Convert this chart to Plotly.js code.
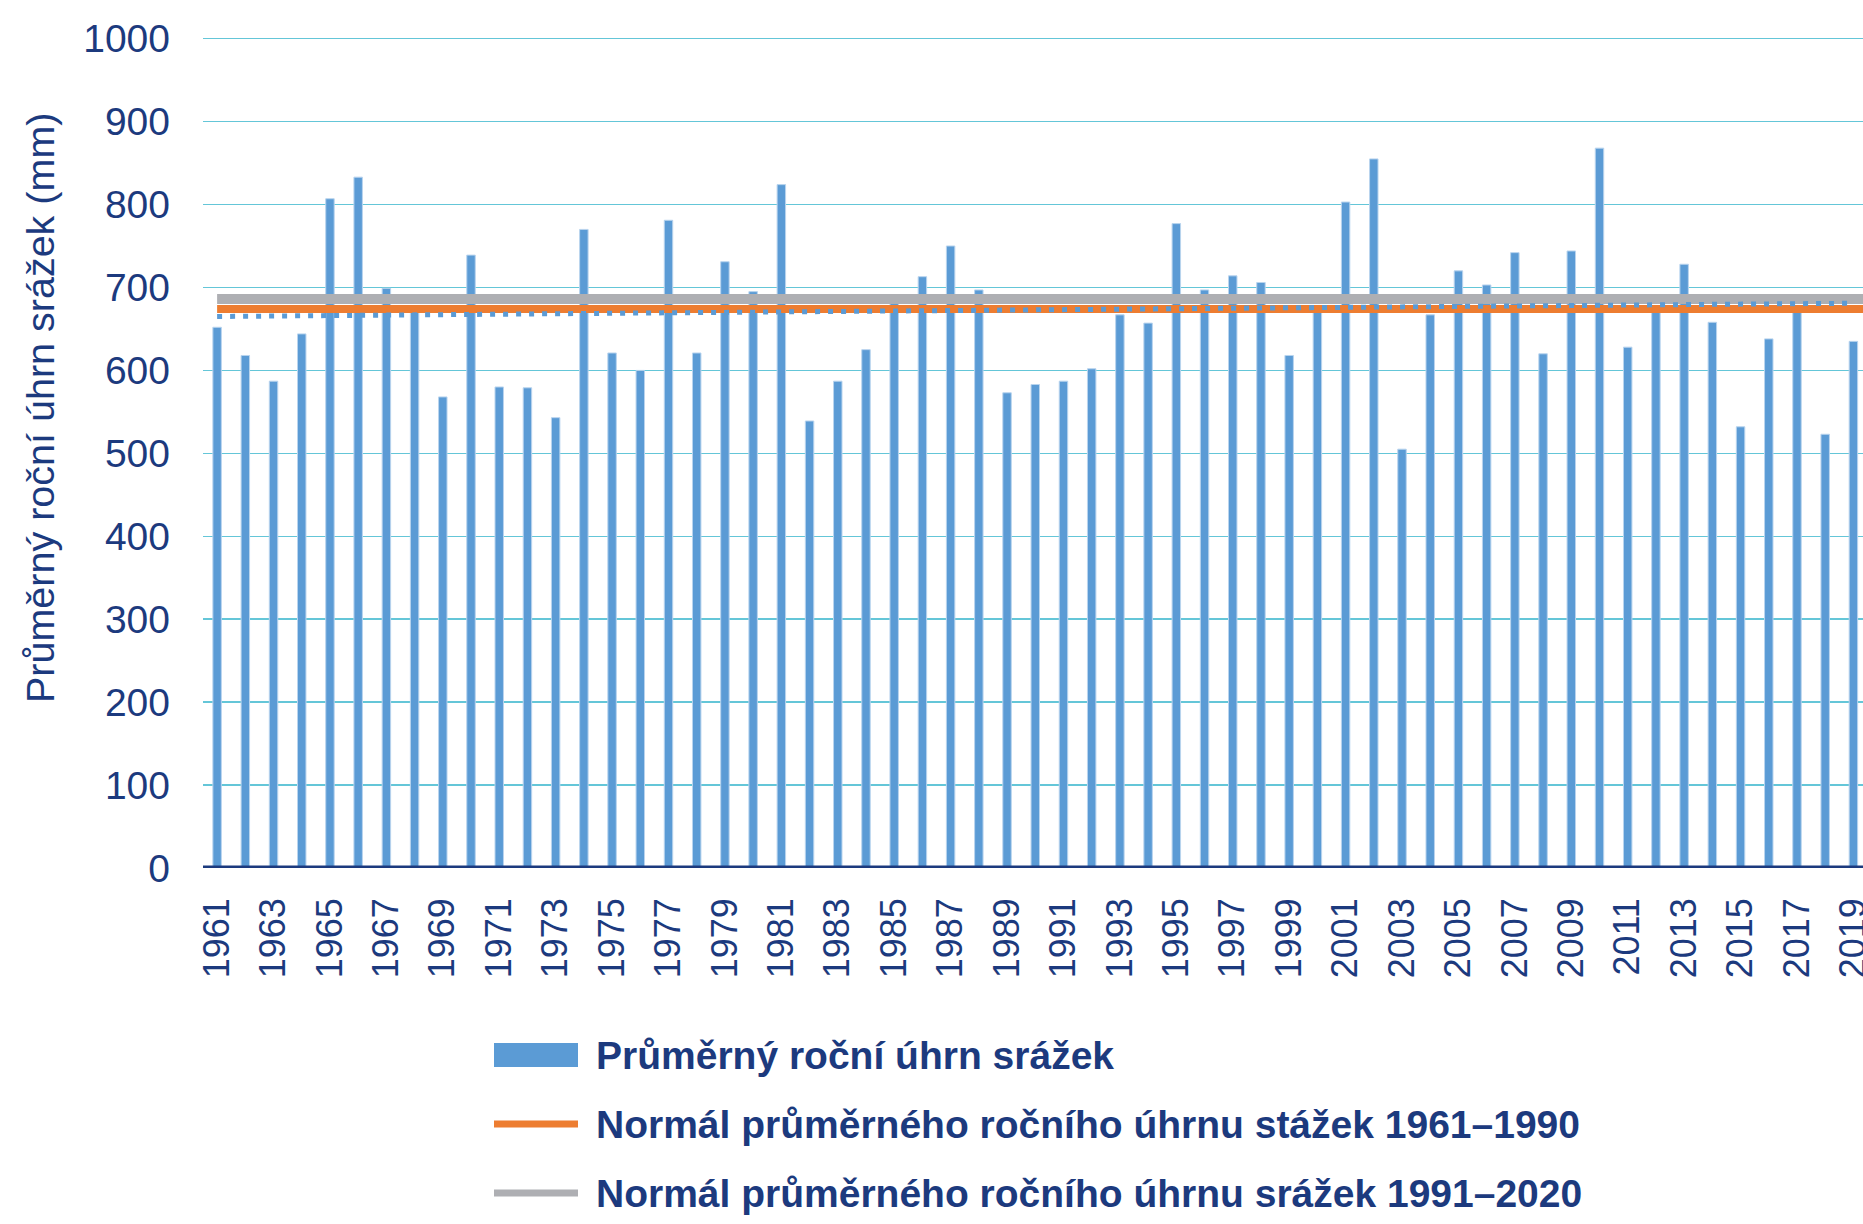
<!DOCTYPE html>
<html>
<head>
<meta charset="utf-8">
<script src="https://cdn.plot.ly/plotly-3.0.1.min.js"></script>
<style>
  html, body { margin: 0; padding: 0; background: #ffffff; }
  #chart { width: 1863px; height: 1224px; }
</style>
</head>
<body>
<div id="chart"></div>
<script>
// ---- data ----
const years = [1961, 1962, 1963, 1964, 1965, 1966, 1967, 1968, 1969, 1970,
               1971, 1972, 1973, 1974, 1975, 1976, 1977, 1978, 1979, 1980,
               1981, 1982, 1983, 1984, 1985, 1986, 1987, 1988, 1989, 1990,
               1991, 1992, 1993, 1994, 1995, 1996, 1997, 1998, 1999, 2000,
               2001, 2002, 2003, 2004, 2005, 2006, 2007, 2008, 2009, 2010,
               2011, 2012, 2013, 2014, 2015, 2016, 2017, 2018, 2019];
const precipitation = [652, 618, 587, 644, 807, 833, 699, 670, 568, 739,
                       580, 579, 543, 770, 621, 600, 781, 621, 731, 695,
                       824, 539, 587, 625, 691, 713, 750, 697, 573, 583,
                       587, 602, 667, 657, 777, 697, 714, 706, 618, 672,
                       803, 855, 505, 667, 720, 703, 742, 620, 744, 868,
                       628, 672, 728, 658, 532, 638, 670, 523, 635];
const normal1961_1990 = 674;
const normal1991_2020 = 686;
const normalSpanYears = [1961, 2021];
const trendYears = [1961, 2019];
const trendValues = [665, 681];
const yTickValues = [0, 100, 200, 300, 400, 500, 600, 700, 800, 900, 1000];
const legendLabels = [
  "Průměrný roční úhrn srážek",
  "Normál průměrného ročního úhrnu stážek 1961–1990",
  "Normál průměrného ročního úhrnu srážek 1991–2020"
];
const yAxisTitle = "Průměrný roční úhrn srážek (mm)";

// ---- styles ----
const NAVY = "#1C3A7E";
const BAR = "#5B9BD5";
const ORANGE = "#ED7D31";
const GRAY = "#AEAFB3";
const GRID = "#64C6D8";
const FONT = "Liberation Sans, Arial, sans-serif";

const traces = [
  {
    type: "bar", x: years, y: precipitation, name: legendLabels[0],
    width: 0.3,
    marker: { color: BAR, line: { color: "#B9D4EE", width: 1 } },
    showlegend: false
  },
  {
    type: "scatter", mode: "lines", x: normalSpanYears,
    y: [normal1991_2020, normal1991_2020], name: legendLabels[2],
    line: { color: GRAY, width: 10 }, showlegend: false
  },
  {
    type: "scatter", mode: "lines", x: normalSpanYears,
    y: [normal1961_1990, normal1961_1990], name: legendLabels[1],
    line: { color: ORANGE, width: 8 }, showlegend: false
  },
  {
    type: "scatter", mode: "lines", x: trendYears, y: trendValues,
    name: "trend", line: { color: BAR, width: 5, dash: "5px,8px" },
    showlegend: false
  }
];

// plot-area geometry in px (for legend placement in paper units)
const W = 1863, H = 1224;
const mL = 203, mR = 0, mT = 37, mB = 356;
const pw = W - mL - mR, ph = H - mT - mB;
const px = (X) => (X - mL) / pw;
const py = (Y) => (H - mB - Y) / ph;

const legendRows = [1055, 1124, 1193];

const layout = {
  width: W, height: H,
  margin: { l: mL, r: mR, t: mT, b: mB, pad: 0 },
  paper_bgcolor: "#ffffff", plot_bgcolor: "#ffffff",
  font: { family: FONT, color: NAVY },
  bargap: 0,
  xaxis: {
    type: "linear",
    range: [1960.5, 2019.34],
    tickmode: "linear", tick0: 1961, dtick: 2,
    tickangle: -90,
    tickfont: { family: FONT, size: 36, color: NAVY },
    ticks: "", showgrid: false, zeroline: false, showline: false,
    ticklabelstandoff: 22,
    ticklabeloverflow: "allow"
  },
  yaxis: {
    range: [0, 1002],
    tickvals: yTickValues,
    tickfont: { family: FONT, size: 39, color: NAVY },
    ticks: "", showgrid: true, gridcolor: GRID, gridwidth: 1.5,
    zeroline: false, showline: false,
    ticklabelstandoff: 32
  },
  shapes: [
    { type: "line", xref: "paper", yref: "y", x0: 0, x1: 1, y0: 0, y1: 0,
      line: { color: NAVY, width: 5 }, layer: "above" },
    { type: "rect", xref: "paper", yref: "paper",
      x0: px(494), x1: px(578), y0: py(legendRows[0] + 12), y1: py(legendRows[0] - 12),
      fillcolor: BAR, line: { width: 0 } },
    { type: "line", xref: "paper", yref: "paper",
      x0: px(494), x1: px(578), y0: py(legendRows[1]), y1: py(legendRows[1]),
      line: { color: ORANGE, width: 7 } },
    { type: "line", xref: "paper", yref: "paper",
      x0: px(494), x1: px(578), y0: py(legendRows[2]), y1: py(legendRows[2]),
      line: { color: GRAY, width: 7 } }
  ],
  annotations: [
    { text: yAxisTitle, xref: "paper", yref: "paper", x: px(40), y: py(408),
      xanchor: "center", yanchor: "middle", textangle: -90, showarrow: false,
      font: { family: FONT, size: 39.5, color: NAVY } }
  ].concat(legendLabels.map((t, i) => ({
      text: "<b>" + t + "</b>", xref: "paper", yref: "paper",
      x: px(594), y: py(legendRows[i]), xanchor: "left", yanchor: "middle",
      showarrow: false, font: { family: FONT, size: 39, color: NAVY }
  })))
};

Plotly.newPlot("chart", traces, layout, { displayModeBar: false, staticPlot: true });
</script>
</body>
</html>
